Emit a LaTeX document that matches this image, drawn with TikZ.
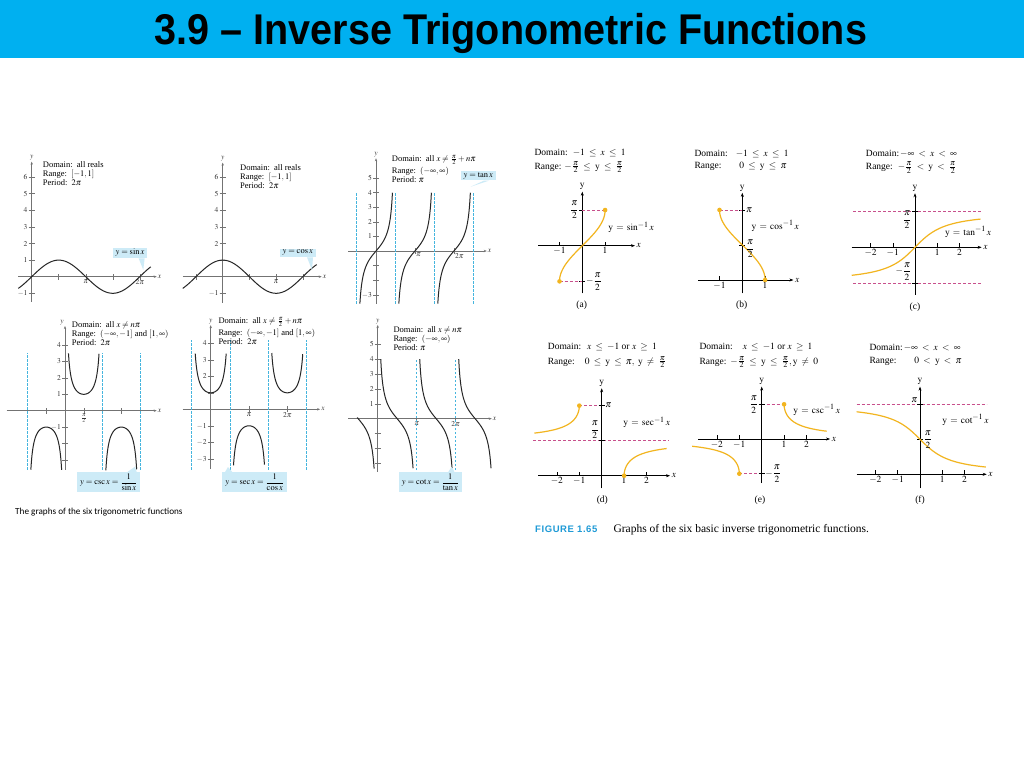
\documentclass[tikz,border=0pt]{standalone}
\usepackage{amsmath}
\usepackage{mathptmx}
\usepackage{fontspec}
\setmainfont{Liberation Serif}
\newfontfamily\titlefont{Liberation Sans}
\newfontfamily\capfont{Carlito}
\newfontfamily\figfont[LetterSpace=6]{Liberation Sans}
\usetikzlibrary{arrows.meta,positioning}
\DeclareMathSizes{9.5}{9.5}{8}{6}
\definecolor{barblue}{HTML}{00B0F0}
\definecolor{asymblue}{HTML}{45B5DE}
\definecolor{tagblue}{HTML}{CDEBF7}
\definecolor{invorange}{HTML}{F2B51F}
\definecolor{guidepink}{HTML}{C8508C}
\definecolor{figblue}{HTML}{1E9AD6}
\newcommand{\wle}{\;\le\;}
\newcommand{\wlt}{\;<\;}
\newcommand{\wge}{\;\ge\;}

\begin{document}
\begin{tikzpicture}[x=1pt,y=-1pt,
  axL/.style={draw=black!55, line width=0.45pt, -{Stealth[length=3pt,width=2.4pt]}},
  tk/.style={draw=black!55, line width=0.45pt},
  tkl/.style={font=\fontsize{7.5}{8}\selectfont, inner sep=1pt, text=black!80},
  trig/.style={draw=black!85, line width=1pt},
  asym/.style={draw=asymblue, dash pattern=on 2.5pt off 1.5pt, line width=0.6pt},
  info/.style={anchor=north west, align=left, inner sep=0pt, font=\fontsize{8.5}{9.3}\selectfont},
  tag/.style={fill=tagblue, inner xsep=3pt, inner ysep=1.5pt, font=\fontsize{8.5}{9}\selectfont},
  axR/.style={draw=black, line width=0.5pt, -{Stealth[length=4pt,width=3pt]}},
  tkR/.style={draw=black, line width=0.5pt},
  lblR/.style={font=\fontsize{9.5}{10}\selectfont, inner sep=1.5pt},
  inv/.style={draw=invorange, line width=1.2pt},
  guide/.style={draw=guidepink, dash pattern=on 3pt off 2pt, line width=0.6pt},
  enddot/.style={fill=invorange},
  infoR/.style={anchor=base west, inner sep=0pt, font=\fontsize{9.5}{11}\selectfont},
  sublbl/.style={font=\fontsize{9.5}{11}\selectfont}]

\useasboundingbox (0,0) rectangle (1024,768);
\fill[white] (0,0) rectangle (1024,768);
\fill[barblue] (0,0) rectangle (1024,58);
\node[anchor=base, font=\titlefont\bfseries\fontsize{43}{43}\selectfont] (title) at (511,45)
  {\scalebox{0.92}[1]{3.9 \textendash\ Inverse Trigonometric Functions}};

\begin{scope}[shift={(31.7,276.7)},x=17.2pt,y=16.6pt]
  \draw[axL] (-0.78,0) -- (7.27,0) node[right,tkl] {$x$};
  \draw[axL] (0,-1.5) -- (0,6.93) node[above,tkl] {$y$};
  \foreach \k in {-1,1,2,...,6}
    \draw[tk] (0,\k) ++(-3pt,0pt) -- ++(6pt,0pt) node[pos=0,left,tkl] {$\k$};
  \foreach \k in {1,2,3,4}
    \draw[tk] ({\k*pi/2},0) ++(0pt,-3pt) -- ++(0pt,6pt);
  \node[tkl,below=2pt] at (pi,0) {$\pi$};
  \node[tkl,below=2pt] at (2*pi,0) {$2\pi$};
  \draw[trig,domain=-0.78:6.92,samples=80,smooth] plot (\x,{sin(\x r)});
\end{scope}
\node[info] (sininfo) at (42.7,161) {Domain:\ \ all reals\\Range:\ \ $[-1,1]$\\Period:\ \ $2\pi$};
\node[tag] (sintag) at (130,252.8) {$y=\sin x$};
\coordinate (sintip) at (143.3,270);
\fill[tagblue] ([xshift=-9pt]sintag.south east) -- ([xshift=-3pt]sintag.south east) -- (sintip) -- cycle;

\begin{scope}[shift={(222.7,276.7)},x=17pt,y=16.6pt]
  \draw[axL] (-2.35,0) -- (5.82,0) node[right,tkl] {$x$};
  \draw[axL] (0,-1.58) -- (0,6.87) node[above,tkl] {$y$};
  \foreach \k in {-1,1}
    \draw[tk] (0,\k) ++(-3pt,0pt) -- ++(6pt,0pt);
  \foreach \k in {-1,2,3,...,6}
    \draw[tk] (0,\k) ++(-3pt,0pt) -- ++(6pt,0pt) node[pos=0,left,tkl] {$\k$};
  \foreach \k in {-1,1,2,3}
    \draw[tk] ({\k*pi/2},0) ++(0pt,-3pt) -- ++(0pt,6pt);
  \node[tkl,below=2pt] at (pi,0) {$\pi$};
  \draw[trig,domain=-2.35:5.53,samples=80,smooth] plot (\x,{cos(\x r)});
\end{scope}
\node[info] (cosinfo) at (240,164) {Domain:\ \ all reals\\Range:\ \ $[-1,1]$\\Period:\ \ $2\pi$};
\node[tag] (costag) at (297.7,252.8) {$y=\cos x$};
\coordinate (costip) at (312,270);
\fill[tagblue] ([xshift=-9pt]costag.south east) -- ([xshift=-3pt]costag.south east) -- (costip) -- cycle;

\begin{scope}[shift={(376,251)},x=12.4pt,y=14.6pt]
  \draw[axL] (-2.23,0) -- (8.93,0) node[right,tkl] {$x$};
  \draw[axL] (0,-3.6) -- (0,6.35) node[above,tkl] {$y$};
  \foreach \k in {-3,-2,-1,1,2,...,5}
    \draw[tk] (0,\k) ++(-3pt,0pt) -- ++(6pt,0pt);
  \foreach \k in {-3,1,2,...,5}
    \node[tkl,left=3pt] at (0,\k) {$\k$};
  \foreach \k in {1,2}
    \draw[tk] ({\k*pi},0) ++(0pt,-3pt) -- ++(0pt,6pt);
  \node[tkl,below right=1pt and 0pt] at (pi,0) {$\pi$};
  \node[tkl,below right=1pt and 0pt] at (2*pi,0) {$2\pi$};
  \foreach \k in {-1,1,3,5}
    \draw[asym] ({\k*pi/2},-3.6) -- ({\k*pi/2},4.05);
  \foreach \c in {0,1,2}
    \draw[trig,domain=-1.3:1.326,samples=60,smooth,variable=\t] plot ({\c*pi+\t},{tan(\t r)});
\end{scope}
\node[info] (taninfo) at (391.7,155) {Domain:\ \ all $x\neq\frac{\pi}{2}+n\pi$\\[1.5pt]Range:\ \ $(-\infty,\infty)$\\Period:\ $\pi$};
\node[tag] (tantag) at (478.3,175.5) {$y=\tan x$};
\coordinate (tantip) at (470.7,186.7);
\fill[tagblue] ([xshift=-12pt]tantag.south east) -- ([xshift=-7pt]tantag.south east) -- (tantip) -- cycle;

\begin{scope}[shift={(65,410.7)},x=11.94pt,y=16.4pt]
  \draw[axL] (-4.88,0) -- (7.68,0) node[right,tkl] {$x$};
  \draw[axL] (0,-3.6) -- (0,5.16) node[above left,tkl] {$y$};
  \foreach \k in {-3,-2,-1,1,2,...,4}
    \draw[tk] (0,\k) ++(-3pt,0pt) -- ++(6pt,0pt);
  \foreach \k in {-1,1,2,...,4}
    \node[tkl,left=3pt] at (0,\k) {$\k$};
  \foreach \k in {-1,1,3}
    \draw[tk] ({\k*pi/2},0) ++(0pt,-3pt) -- ++(0pt,6pt);
  \node[tkl,below=2pt] at (pi/2,0) {$\frac{\pi}{2}$};
  \foreach \k in {-1,1,2}
    \draw[asym] ({\k*pi},-3.6) -- ({\k*pi},3.5);
  \draw[trig,domain=0.29:2.85,samples=60,smooth] plot (\x,{1/sin(\x r)});
  \draw[trig,domain=-2.86:-0.28,samples=60,smooth] plot (\x,{1/sin(\x r)});
  \draw[trig,domain=3.42:6.0,samples=60,smooth] plot (\x,{1/sin(\x r)});
\end{scope}
\node[info] (cscinfo) at (71.7,321) {Domain:\ \ all $x\neq n\pi$\\Range:\ \ $(-\infty,-1]$ and $[1,\infty)$\\Period:\ \ $2\pi$};
\node[tag] (csctag) at (108.8,482.2) {$y=\csc x=\dfrac{1}{\sin x}$};
\coordinate (csctip) at (135,466.7);
\fill[tagblue] ([xshift=-13pt]csctag.north east) -- ([xshift=-4pt]csctag.north east) -- (csctip) -- cycle;

\begin{scope}[shift={(210.7,409.3)},x=12.19pt,y=16.5pt]
  \draw[axL] (-2.3,0) -- (8.97,0) node[right,tkl] {$x$};
  \draw[axL] (0,-3.6) -- (0,5.1) node[above,tkl] {$y$};
  \foreach \k in {-3,-2,-1,1,2,...,4}
    \draw[tk] (0,\k) ++(-3pt,0pt) -- ++(6pt,0pt);
  \foreach \k in {-3,-2,-1,2,3,4}
    \node[tkl,left=3pt] at (0,\k) {$\k$};
  \foreach \k in {1,2}
    \draw[tk] ({\k*pi},0) ++(0pt,-3pt) -- ++(0pt,6pt);
  \node[tkl,below=2pt] at (pi,0) {$\pi$};
  \node[tkl,below=2pt] at (2*pi,0) {$2\pi$};
  \foreach \k in {-1,1,3,5}
    \draw[asym] ({\k*pi/2},-3.65) -- ({\k*pi/2},4.2);
  \draw[trig,domain=-1.27:1.27,samples=60,smooth] plot (\x,{1/cos(\x r)});
  \draw[trig,domain=1.87:4.41,samples=60,smooth] plot (\x,{1/cos(\x r)});
  \draw[trig,domain=5.01:7.55,samples=60,smooth] plot (\x,{1/cos(\x r)});
\end{scope}
\node[info] (secinfo) at (218.3,317) {Domain:\ \ all $x\neq\frac{\pi}{2}+n\pi$\\[1.5pt]Range:\ \ $(-\infty,-1]$ and $[1,\infty)$\\Period:\ \ $2\pi$};
\node[tag] (sectag) at (254.7,482.2) {$y=\sec x=\dfrac{1}{\cos x}$};
\coordinate (sectip) at (228,467);
\fill[tagblue] ([xshift=3pt]sectag.north west) -- ([xshift=10pt]sectag.north west) -- (sectip) -- cycle;

\begin{scope}[shift={(377.7,418.7)},x=12.41pt,y=14.9pt]
  \draw[axL] (-2.37,0) -- (9.19,0) node[right,tkl] {$x$};
  \draw[axL] (0,-3.56) -- (0,6.29) node[above,tkl] {$y$};
  \foreach \k in {-3,-2,-1,1,2,...,5}
    \draw[tk] (0,\k) ++(-3pt,0pt) -- ++(6pt,0pt);
  \foreach \k in {1,2,...,5}
    \node[tkl,left=3pt] at (0,\k) {$\k$};
  \foreach \k in {1,2}
    \draw[tk] ({\k*pi},0) ++(0pt,-3pt) -- ++(0pt,6pt);
  \node[tkl,below=2pt] at (pi,0) {$\pi$};
  \node[tkl,below=2pt] at (2*pi,0) {$2\pi$};
  \foreach \k in {1,2}
    \draw[asym] ({\k*pi},-3.45) -- ({\k*pi},3.94);
  \foreach \c in {0,1,2}
    \draw[trig,domain=0.245:2.85,samples=60,smooth,variable=\t] plot ({\c*pi+\t},{cos(\t r)/sin(\t r)});
  \draw[trig,domain=-1.65:-0.29,samples=40,smooth] plot (\x,{cos(\x r)/sin(\x r)});
\end{scope}
\node[info] (cotinfo) at (393.3,326) {Domain:\ \ all $x\neq n\pi$\\Range:\ \ $(-\infty,\infty)$\\Period:\ $\pi$};
\node[tag] (cottag) at (430.5,482.2) {$y=\cot x=\dfrac{1}{\tan x}$};
\coordinate (cottip) at (451.7,466.7);
\fill[tagblue] ([xshift=-14pt]cottag.north east) -- ([xshift=-8pt]cottag.north east) -- (cottip) -- cycle;

\node[anchor=west, font=\capfont\fontsize{9.2}{10}\selectfont] (leftcap) at (11.7,512.3) {The graphs of the six trigonometric functions};

% inverse functions
\node[infoR] (adom) at (534.3,155.5) {Domain:\hspace{5pt}$-1\wle x\wle 1$};
\node[infoR] (aran) at (534.3,169) {Range:\hspace{3pt}$-\tfrac{\pi}{2}\wle\mathrm{y}\wle\tfrac{\pi}{2}$};
\begin{scope}[shift={(582.3,245.7)},x=22.8pt,y=22.7pt]
  \draw[axR] (-1.93,0) -- (2.31,0) node[right,lblR] {$x$};
  \draw[axR] (0,-2.1) -- (0,2.38) node[above,lblR] {$\mathrm{y}$};
  \foreach \k in {-1,1} {
    \draw[tkR] (\k,0) -- ++(0pt,4pt);
    \node[lblR,below] at (\k,0) {$\k$};
    \draw[tkR] (0,{\k*pi/2}) ++(-3pt,0pt) -- ++(6pt,0pt);
  }
  \draw[guide] (0,pi/2) -- (1,pi/2);
  \draw[guide] (-1,-pi/2) -- (0,-pi/2);
  \draw[inv,domain=-1.5708:1.5708,samples=50,smooth,variable=\t] plot ({sin(\t r)},\t);
  \fill[enddot] (1,pi/2) circle (2.3pt);
  \fill[enddot] (-1,-pi/2) circle (2.3pt);
  \node[lblR,left=2pt] at (0,pi/2) {$\dfrac{\pi}{2}$};
  \node[lblR,right=2pt] at (0,-pi/2) {$-\dfrac{\pi}{2}$};
\end{scope}
\node[lblR,anchor=west] (alab) at (606.7,227.3) {$\mathrm{y}\,=\,\sin^{-1}x$};
\node[sublbl] (acap) at (581.7,305) {(a)};

\node[infoR] (bdom) at (694.3,156) {Domain:\hspace{8pt}$-1\wle x\wle 1$};
\node[infoR] (bran) at (694.3,168.5) {Range:\hspace{18pt}$0\wle\mathrm{y}\wle\pi$};
\begin{scope}[shift={(742.3,280)},x=22.8pt,y=22.3pt]
  \draw[axR] (-1.93,0) -- (2.24,0) node[right,lblR] {$x$};
  \draw[axR] (0,-0.6) -- (0,3.91) node[above,lblR] {$\mathrm{y}$};
  \foreach \k in {-1,1} {
    \draw[tkR] (\k,0) -- ++(0pt,4pt);
    \node[lblR,below] at (\k,0) {$\k$};
  }
  \foreach \v in {1,2}
    \draw[tkR] (0,{\v*pi/2}) ++(-3pt,0pt) -- ++(6pt,0pt);
  \draw[guide] (-1,pi) -- (0,pi);
  \draw[inv,domain=0:3.1416,samples=50,smooth,variable=\t] plot ({cos(\t r)},\t);
  \fill[enddot] (1,0) circle (2.3pt);
  \fill[enddot] (-1,pi) circle (2.3pt);
  \node[lblR,right=2pt] at (0,pi) {$\pi$};
  \node[lblR,right=2pt] at (0,1.4) {$\dfrac{\pi}{2}$};
\end{scope}
\node[lblR,anchor=west] (blab) at (750,226) {$\mathrm{y}\,=\,\cos^{-1}x$};
\node[sublbl] (bcap) at (741.7,305) {(b)};

\node[infoR] (cdom) at (865.7,156) {Domain:\hspace{1pt}$-\infty\wlt x\wlt\infty$};
\node[infoR] (cran) at (865.7,169.5) {Range:\hspace{5pt}$-\tfrac{\pi}{2}\wlt\mathrm{y}\wlt\tfrac{\pi}{2}$};
\begin{scope}[shift={(915,247.3)},x=22.2pt,y=22.7pt]
  \draw[axR] (-2.85,0) -- (3.0,0) node[right,lblR] {$x$};
  \draw[axR] (0,-2.1) -- (0,2.38) node[above,lblR] {$\mathrm{y}$};
  \draw[guide] (-2.78,pi/2) -- (3.0,pi/2);
  \draw[guide] (-2.78,-pi/2) -- (3.0,-pi/2);
  \foreach \k in {-2,-1,1,2} {
    \draw[tkR] (\k,0) -- ++(0pt,4pt);
    \node[lblR,below] at (\k,0) {$\k$};
  }
  \foreach \v in {-1,1}
    \draw[tkR] (0,{\v*pi/2}) ++(-3pt,0pt) -- ++(6pt,0pt);
  \draw[inv,domain=-2.85:2.95,samples=60,smooth] plot (\x,{rad(atan(\x))});
  \node[lblR,left=2pt] at (0,1.2) {$\dfrac{\pi}{2}$};
  \node[lblR,left=2pt] at (0,-1.07) {$-\dfrac{\pi}{2}$};
\end{scope}
\node[lblR,anchor=west] (clab) at (943.3,231.7) {$\mathrm{y}\,=\,\tan^{-1}x$};
\node[sublbl] (ccap) at (915,307.3) {(c)};

\node[infoR] (ddom) at (547.7,349.5) {Domain:\hspace{6pt}$x\wle-1$ or $x\wge 1$};
\node[infoR] (dran) at (547.7,364) {Range:\hspace{10pt}$0\wle\mathrm{y}\wle\pi,\ \mathrm{y}\;\ne\;\tfrac{\pi}{2}$};
\begin{scope}[shift={(601.7,475.7)},x=22.4pt,y=22.3pt]
  \draw[axR] (-2.83,0) -- (3.05,0) node[right,lblR] {$x$};
  \draw[axR] (0,-0.57) -- (0,3.92) node[above,lblR] {$\mathrm{y}$};
  \draw[guide] (-3.05,pi/2) -- (3.0,pi/2);
  \draw[guide] (-1,pi) -- (0,pi);
  \foreach \k in {-2,-1,1,2} {
    \draw[tkR] (\k,0) -- ++(0pt,4pt);
    \node[lblR,below] at (\k,0) {$\k$};
  }
  \foreach \v in {1,2}
    \draw[tkR] (0,{\v*pi/2}) ++(-3pt,0pt) -- ++(6pt,0pt);
  \draw[inv,domain=1.91:3.1416,samples=50,smooth,variable=\t] plot ({1/cos(\t r)},\t);
  \draw[inv,domain=0:1.219,samples=50,smooth,variable=\t] plot ({1/cos(\t r)},\t);
  \fill[enddot] (-1,pi) circle (2.3pt);
  \fill[enddot] (1,0) circle (2.3pt);
  \node[lblR,right=2pt] at (0,pi) {$\pi$};
  \node[lblR,left=1pt] at (0,2.05) {$\dfrac{\pi}{2}$};
\end{scope}
\node[lblR,anchor=west] (dlab) at (621.7,422.3) {$\mathrm{y}\,=\,\sec^{-1}x$};
\node[sublbl] (dcap) at (602.3,500.7) {(d)};

\node[infoR] (edom) at (699.3,349.5) {Domain:\hspace{10pt}$x\wle-1$ or $x\wge 1$};
\node[infoR] (eran) at (699.3,364) {Range:\hspace{4pt}$-\tfrac{\pi}{2}\wle\mathrm{y}\wle\tfrac{\pi}{2},\mathrm{y}\;\ne\;0$};
\begin{scope}[shift={(761.7,439)},x=22.4pt,y=22.1pt]
  \draw[axR] (-2.83,0) -- (3.05,0) node[right,lblR] {$x$};
  \draw[axR] (0,-2.0) -- (0,2.37) node[above,lblR] {$\mathrm{y}$};
  \draw[guide] (0,pi/2) -- (1,pi/2);
  \draw[guide] (-1,-pi/2) -- (0,-pi/2);
  \foreach \k in {-2,-1,1,2} {
    \draw[tkR] (\k,0) -- ++(0pt,4pt);
    \node[lblR,below] at (\k,0) {$\k$};
  }
  \foreach \v in {-1,1}
    \draw[tkR] (0,{\v*pi/2}) ++(-3pt,0pt) -- ++(6pt,0pt);
  \draw[inv,domain=0.352:1.5708,samples=50,smooth,variable=\t] plot ({1/sin(\t r)},\t);
  \draw[inv,domain=-1.5708:-0.328,samples=50,smooth,variable=\t] plot ({1/sin(\t r)},\t);
  \fill[enddot] (1,pi/2) circle (2.3pt);
  \fill[enddot] (-1,-pi/2) circle (2.3pt);
  \node[lblR,left=2pt] at (0,pi/2) {$\dfrac{\pi}{2}$};
  \node[lblR,right=2pt] at (0,-pi/2) {$-\dfrac{\pi}{2}$};
\end{scope}
\node[lblR,anchor=west] (elab) at (791.7,410) {$\mathrm{y}\,=\,\csc^{-1}x$};
\node[sublbl] (ecap) at (760,500) {(e)};

\node[infoR] (fdom) at (869.3,350.5) {Domain:\hspace{1pt}$-\infty\wlt x\wlt\infty$};
\node[infoR] (fran) at (869.3,363.5) {Range:\hspace{18pt}$0\wlt\mathrm{y}\wlt\pi$};
\begin{scope}[shift={(920,474.3)},x=22.3pt,y=22.3pt]
  \draw[axR] (-2.84,0) -- (2.99,0) node[right,lblR] {$x$};
  \draw[axR] (0,-0.63) -- (0,3.93) node[above,lblR] {$\mathrm{y}$};
  \draw[guide] (-2.84,pi) -- (2.99,pi);
  \foreach \k in {-2,-1,1,2} {
    \draw[tkR] (\k,0) -- ++(0pt,4pt);
    \node[lblR,below] at (\k,0) {$\k$};
  }
  \foreach \v in {1,2}
    \draw[tkR] (0,{\v*pi/2}) ++(-3pt,0pt) -- ++(6pt,0pt);
  \draw[inv,domain=-2.84:2.95,samples=60,smooth] plot (\x,{pi/2-rad(atan(\x))});
  \node[lblR,above left=0pt and 1pt] at (0,pi) {$\pi$};
  \node[lblR,right=2pt] at (0,pi/2) {$\dfrac{\pi}{2}$};
\end{scope}
\node[lblR,anchor=west] (flab) at (940.7,420) {$\mathrm{y}\,=\,\cot^{-1}x$};
\node[sublbl] (fcap) at (920,500) {(f)};

\node[anchor=base west, font=\figfont\bfseries\fontsize{9.5}{11}\selectfont, text=figblue] (figno) at (531.7,532) {FIGURE 1.65};
\node[anchor=base west, font=\fontsize{11.5}{12}\selectfont] (figtext) at (610,532) {Graphs of the six basic inverse trigonometric functions.};
\end{tikzpicture}
\end{document}
